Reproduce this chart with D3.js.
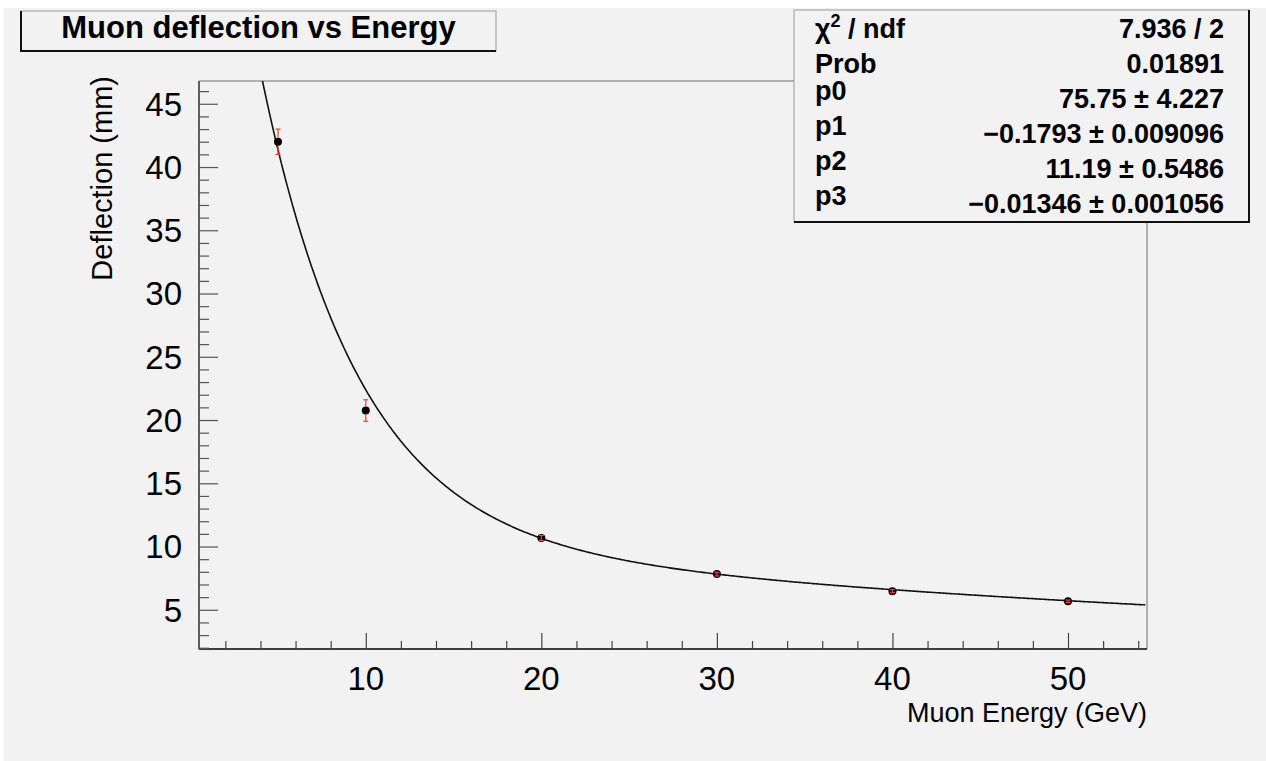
<!DOCTYPE html>
<html>
<head>
<meta charset="utf-8">
<script src="https://cdn.jsdelivr.net/npm/d3@7/dist/d3.min.js"></script>
<style>
  html, body { margin: 0; padding: 0; background: #ffffff; }
  svg { display: block; }
</style>
</head>
<body>
<div id="chart"></div>
<script>
// measured points (GeV, mm) and their errors
var energies = [5, 10, 20, 30, 40, 50];
var deflections = [42.0, 20.75, 10.68, 7.82, 6.47, 5.67];
var deflErrors = [1.0, 0.85, 0.2, 0.15, 0.12, 0.1];

// fit: p0*exp(p1*x) + p2*exp(p3*x)
var fitParams = [75.75, -0.1793, 11.19, -0.01346];

var statLabels = ["χ² / ndf", "Prob", "p0", "p1", "p2", "p3"];
var statValues = ["7.936 / 2", "0.01891", "75.75 ± 4.227", "−0.1793 ± 0.009096",
  "11.19 ± 0.5486", "−0.01346 ± 0.001056"];

var xMajorTicks = [10, 20, 30, 40, 50];
var yMajorTicks = [5, 10, 15, 20, 25, 30, 35, 40, 45];

(function () {
  var W = 1266, H = 761;
  var FONT = "'Liberation Sans', Arial, Helvetica, sans-serif";

  var svg = d3.select("#chart").append("svg")
    .attr("width", W)
    .attr("height", H);

  svg.append("rect")
    .attr("x", 4).attr("y", 8)
    .attr("width", W - 4).attr("height", H - 8)
    .attr("fill", "#f2f2f2");

  var frame = {left: 199, right: 1147, top: 81, bottom: 649};

  var x = d3.scaleLinear().domain([0.5, 54.5]).range([frame.left, frame.right]);
  var y = d3.scaleLinear().domain([1.9, 46.8]).range([frame.bottom, frame.top]);

  // frame top / right
  svg.append("path")
    .attr("d", "M" + frame.left + "," + frame.top + "H" + frame.right + "V" + frame.bottom)
    .attr("fill", "none")
    .attr("stroke", "#6e6e6e")
    .attr("stroke-width", 1);

  // x axis with major + minor ticks
  var xMinor = d3.range(2, 55, 2).filter(function (v) { return xMajorTicks.indexOf(v) < 0; });
  var xAxisG = svg.append("g").attr("transform", "translate(0," + frame.bottom + ")");
  xAxisG.call(d3.axisTop(x).tickValues(xMinor).tickSize(8).tickFormat(""));
  xAxisG.call(function (g) {
    g.append("g").call(d3.axisTop(x).tickValues(xMajorTicks).tickSize(16).tickFormat(""));
  });
  xAxisG.selectAll(".domain").attr("d", "M" + frame.left + ",0H" + frame.right)
    .attr("stroke", "#333").attr("stroke-width", 1.5);
  xAxisG.selectAll(".tick line").attr("stroke", "#444").attr("stroke-width", 1.2);

  svg.append("g").selectAll("text")
    .data(xMajorTicks)
    .join("text")
    .attr("x", function (d) { return x(d); })
    .attr("y", 690)
    .attr("text-anchor", "middle")
    .attr("font-family", FONT)
    .attr("font-size", 33)
    .attr("fill", "#000")
    .text(function (d) { return d; });

  // y axis
  var yMinor = d3.range(2, 47, 1).filter(function (v) { return yMajorTicks.indexOf(v) < 0; });
  var yAxisG = svg.append("g").attr("transform", "translate(" + frame.left + ",0)");
  yAxisG.call(d3.axisRight(y).tickValues(yMinor).tickSize(10).tickFormat(""));
  yAxisG.call(function (g) {
    g.append("g").call(d3.axisRight(y).tickValues(yMajorTicks).tickSize(19).tickFormat(""));
  });
  yAxisG.selectAll(".domain").attr("d", "M0," + frame.top + "V" + frame.bottom)
    .attr("stroke", "#555").attr("stroke-width", 1.5);
  yAxisG.selectAll(".tick line").attr("stroke", "#555").attr("stroke-width", 1.2);

  svg.append("g").selectAll("text")
    .data(yMajorTicks)
    .join("text")
    .attr("x", 182)
    .attr("y", function (d) { return y(d); })
    .attr("dy", "0.36em")
    .attr("text-anchor", "end")
    .attr("font-family", FONT)
    .attr("font-size", 33)
    .attr("fill", "#000")
    .text(function (d) { return d; });

  // axis titles
  svg.append("text")
    .attr("x", frame.right)
    .attr("y", 722)
    .attr("text-anchor", "end")
    .attr("font-family", FONT)
    .attr("font-size", 27)
    .attr("fill", "#000")
    .text("Muon Energy (GeV)");

  svg.append("text")
    .attr("transform", "translate(112,76) rotate(-90)")
    .attr("text-anchor", "end")
    .attr("font-family", FONT)
    .attr("font-size", 29)
    .attr("fill", "#000")
    .text("Deflection (mm)");

  // fit curve, clipped to the frame
  svg.append("clipPath").attr("id", "frameClip")
    .append("rect")
    .attr("x", frame.left).attr("y", frame.top)
    .attr("width", frame.right - frame.left).attr("height", frame.bottom - frame.top);

  var fitX = d3.range(3.5, 54.41, 0.1);
  var fitLine = d3.line()
    .x(function (d) { return x(d); })
    .y(function (d) {
      return y(fitParams[0] * Math.exp(fitParams[1] * d) + fitParams[2] * Math.exp(fitParams[3] * d));
    });

  svg.append("path")
    .datum(fitX)
    .attr("clip-path", "url(#frameClip)")
    .attr("d", fitLine)
    .attr("fill", "none")
    .attr("stroke", "#111")
    .attr("stroke-width", 1.6);

  // markers
  var pts = energies.map(function (e, i) {
    return {x: e, y: deflections[i], err: deflErrors[i]};
  });
  var R = 4;

  svg.append("g").selectAll("circle")
    .data(pts)
    .join("circle")
    .attr("cx", function (d) { return x(d.x); })
    .attr("cy", function (d) { return y(d.y); })
    .attr("r", R)
    .attr("fill", "#000");

  // error bars (outside the marker) and caps
  var errG = svg.append("g")
    .attr("stroke", "#ff3b3b")
    .attr("stroke-width", 1.2);

  pts.forEach(function (d) {
    var cx = x(d.x), cy = y(d.y);
    var top = y(d.y + d.err), bot = y(d.y - d.err);
    if (cy - top > R) {
      errG.append("line").attr("x1", cx).attr("x2", cx).attr("y1", top).attr("y2", cy - R);
      errG.append("line").attr("x1", cx).attr("x2", cx).attr("y1", cy + R).attr("y2", bot);
    } else {
      errG.append("line").attr("x1", cx).attr("x2", cx).attr("y1", top).attr("y2", bot);
    }
    errG.append("line").attr("x1", cx - 2.5).attr("x2", cx + 2.5).attr("y1", top).attr("y2", top);
    errG.append("line").attr("x1", cx - 2.5).attr("x2", cx + 2.5).attr("y1", bot).attr("y2", bot);
  });

  // title box
  var tb = {x: 21, y: 11, w: 475, h: 40};
  svg.append("rect")
    .attr("x", tb.x).attr("y", tb.y).attr("width", tb.w).attr("height", tb.h)
    .attr("fill", "#f2f2f2")
    .attr("stroke", "#9a9a9a")
    .attr("stroke-width", 1);
  svg.append("path")
    .attr("d", "M" + tb.x + "," + tb.y + "V" + (tb.y + tb.h) + "H" + (tb.x + tb.w))
    .attr("fill", "none")
    .attr("stroke", "#111")
    .attr("stroke-width", 2);
  svg.append("text")
    .attr("x", tb.x + tb.w / 2)
    .attr("y", 38)
    .attr("text-anchor", "middle")
    .attr("font-family", FONT)
    .attr("font-size", 31)
    .attr("font-weight", "bold")
    .attr("fill", "#000")
    .text("Muon deflection vs Energy");

  // stats box
  var sb = {x: 794, y: 10, w: 455, h: 212};
  svg.append("rect")
    .attr("x", sb.x).attr("y", sb.y).attr("width", sb.w).attr("height", sb.h)
    .attr("fill", "#f2f2f2")
    .attr("stroke", "#9a9a9a")
    .attr("stroke-width", 1);
  svg.append("path")
    .attr("d", "M" + (sb.x + sb.w) + "," + sb.y + "V" + (sb.y + sb.h) + "H" + sb.x)
    .attr("fill", "none")
    .attr("stroke", "#111")
    .attr("stroke-width", 2);

  var row = d3.scalePoint().domain(d3.range(statLabels.length)).range([37.5, 213]);

  svg.append("g").selectAll("text")
    .data(statLabels)
    .join("text")
    .attr("x", 815)
    .attr("y", function (d, i) { return row(i) - (i >= 2 ? 8 : 0); })
    .attr("font-family", FONT)
    .attr("font-size", 27)
    .attr("font-weight", "bold")
    .attr("fill", "#000")
    .each(function (d) {
      var t = d3.select(this);
      if (d.indexOf("²") >= 0) {
        t.append("tspan").text("χ");
        t.append("tspan").attr("font-size", 18).attr("dy", -11).text("2");
        t.append("tspan").attr("dy", 11).text(" / ndf");
      } else {
        t.text(d);
      }
    });

  svg.append("g").selectAll("text")
    .data(statValues)
    .join("text")
    .attr("x", 1224)
    .attr("y", function (d, i) { return row(i); })
    .attr("text-anchor", "end")
    .attr("font-family", FONT)
    .attr("font-size", 27)
    .attr("font-weight", "bold")
    .attr("fill", "#000")
    .text(function (d) { return d; });
}());
</script>
</body>
</html>
